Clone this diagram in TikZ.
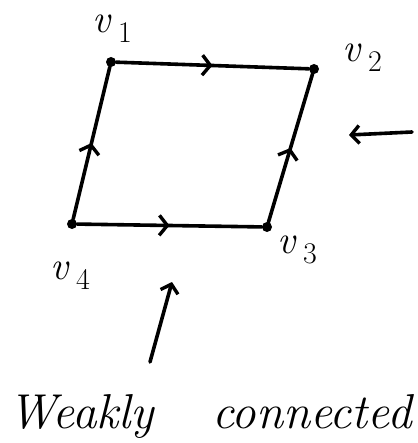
\documentclass[tikz,border=0pt]{standalone}
\usetikzlibrary{arrows.meta,decorations.markings}
\newcommand{\vlab}[1]{\textit{v}\,\raisebox{-0.25em}{\fontsize{30}{34}\selectfont #1}}
\begin{document}
\begin{tikzpicture}[x=1pt,y=-1pt,
  vertex/.style={circle,fill=black,inner sep=0pt,minimum size=10pt},
  edge/.style={line width=3.6pt,line cap=round,
    postaction={decorate,decoration={markings,
      mark=at position 0.5 with {\arrow[line width=3.4pt]{Straight Barb[length=8pt,width=20pt]}}}}},
  lbl/.style={font=\fontsize{40}{44}\selectfont,inner sep=0pt},
  pointer/.style={line width=3.6pt,line cap=round,-{Straight Barb[length=8pt,width=18pt,line width=3.4pt]}},
  caption/.style={font=\itshape\fontsize{49}{54}\selectfont,inner sep=0pt,anchor=base west}]
\useasboundingbox (0,0) rectangle (417,443);
\node[vertex] (v1) at (111,62) {};
\node[vertex] (v2) at (314,69) {};
\node[vertex] (v3) at (267,227) {};
\node[vertex] (v4) at (72,224) {};
\draw[edge] (v1) -- (v2);
\draw[edge] (v4) -- (v1);
\draw[edge] (v3) -- (v2);
\draw[edge] (v4) -- (v3);
\node[lbl] (l1) at (112,29) {\vlab{1}};
\node[lbl] (l2) at (362,58) {\vlab{2}};
\node[lbl] (l3) at (297,250) {\vlab{3}};
\node[lbl] (l4) at (70,276) {\vlab{4}};
\coordinate (ra) at (412,132);
\coordinate (rb) at (349,135);
\draw[pointer] (ra) -- (rb);
\coordinate (ba) at (150,362);
\coordinate (bb) at (172,282);
\draw[pointer] (ba) -- (bb);
\node[caption] (w1) at (8,428) {Weakly};
\node[caption] (w2) at (212,428) {connected};
\end{tikzpicture}
\end{document}
